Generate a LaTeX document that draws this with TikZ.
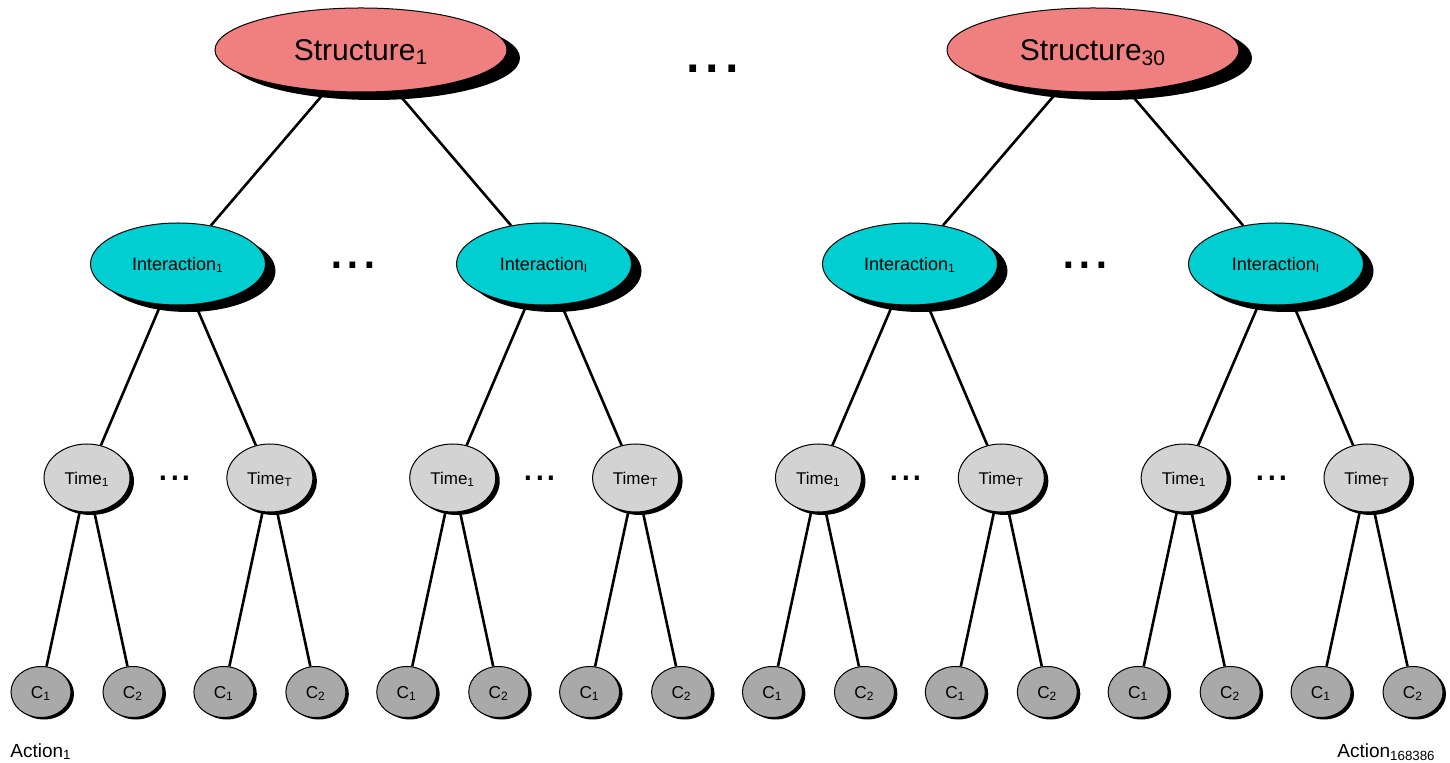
\documentclass[tikz,border=0pt]{standalone}
\usepackage{fontspec}
\setmainfont{Liberation Sans}
\usepackage[svgnames]{xcolor}
\usepackage{tikz}
\usetikzlibrary{shapes.geometric,shadows,backgrounds}

\tikzset{
	structure/.style={ellipse,draw=black,line width=0.5pt,fill=LightCoral,inner sep=0pt,text depth=0pt,
		minimum width=146pt,minimum height=42pt,font=\fontsize{15}{18}\selectfont,
		drop shadow={shadow xshift=6.5pt,shadow yshift=-4pt,fill=black,opacity=1}},
	interaction/.style={ellipse,draw=black,line width=0.5pt,fill=DarkTurquoise,inner sep=0pt,text depth=0pt,
		minimum width=87.5pt,minimum height=41pt,font=\fontsize{9}{11}\selectfont,
		drop shadow={shadow xshift=5pt,shadow yshift=-3.5pt,fill=black,opacity=1}},
	temps/.style={ellipse,draw=black,line width=0.5pt,fill=LightGray,inner sep=0pt,text depth=0pt,
		minimum width=43pt,minimum height=34pt,font=\fontsize{8.5}{10}\selectfont,
		drop shadow={shadow xshift=2pt,shadow yshift=-1.5pt,fill=black,opacity=1}},
	choix/.style={ellipse,draw=black,line width=0.5pt,fill=DarkGray,inner sep=0pt,text depth=0pt,
		minimum width=30pt,minimum height=25.5pt,font=\fontsize{8.6}{10}\selectfont,
		drop shadow={shadow xshift=1.5pt,shadow yshift=-1pt,fill=black,opacity=1}},
	lien/.style={line width=1.3pt,draw=black},
	points/.style={inner sep=0pt}
}

\begin{document}
\begin{tikzpicture}[x=0.5pt,y=-0.5pt]
	%
	% Cadre de l'image
	\useasboundingbox (0,0) rectangle (1450,763);
	%
	% Ecartements modifiables
	\def\arbreX{87}
	\def\arbreDX{182.86}
	\def\arbreC{46}
	%
	% Structures
	\node[structure] (s1) at (361,50) {Structure\textsubscript{1}};
	\node[structure] (s2) at (1093,50) {Structure\textsubscript{30}};
	\node[points,font=\fontsize{35}{35}\selectfont] (p0) at (712.5,69) {...};
	%
	% Interactions
	\foreach \i/\x/\lab in {1/178/1,2/544/I,3/910/1,4/1276/I}
		\node[interaction] (i\i) at (\x,264) {Interaction\textsubscript{\lab}};
	\node[points,font=\fontsize{30}{30}\selectfont] (p1) at (353,265) {...};
	\node[points,font=\fontsize{30}{30}\selectfont] (p2) at (1085,265) {...};
	%
	% Temps et choix
	\foreach \t in {1,...,8} {
		\pgfmathsetmacro\tx{\arbreX+\arbreDX*(\t-1)}
		\pgfmathtruncatemacro\tpair{mod(\t,2)}
		\ifnum\tpair=1 \def\tlab{1}\else\def\tlab{T}\fi
		\node[temps] (t\t) at (\tx,478) {Time\textsubscript{\tlab}};
		\node[choix] (c\t a) at (\tx-\arbreC,692) {C\textsubscript{1}};
		\node[choix] (c\t b) at (\tx+\arbreC,692) {C\textsubscript{2}};
	}
	\foreach \k/\x in {3/175,4/540,5/906,6/1272}
		\node[points,font=\fontsize{21}{21}\selectfont] (p\k) at (\x,478) {...};
	%
	% Actions
	\node[anchor=base west,inner sep=0pt,font=\fontsize{9.5}{11}\selectfont] (a1) at (10,757) {Action\textsubscript{1}};
	\node[anchor=base east,inner sep=0pt,font=\fontsize{9.5}{11}\selectfont] (a2) at (1436,757) {Action\textsubscript{168386}};
	%
	% Liens
	\begin{scope}[on background layer]
		\foreach \s/\ia/\ib in {1/1/2,2/3/4}
			\draw[lien] (s\s) -- (i\ia) (s\s) -- (i\ib);
		\foreach \i/\ta/\tb in {1/1/2,2/3/4,3/5/6,4/7/8}
			\draw[lien] (i\i) -- (t\ta) (i\i) -- (t\tb);
		\foreach \t in {1,...,8}
			\draw[lien] (t\t) -- (c\t a) (t\t) -- (c\t b);
	\end{scope}
\end{tikzpicture}
\end{document}
